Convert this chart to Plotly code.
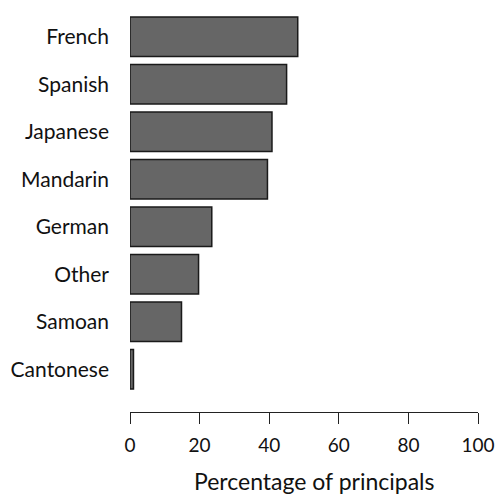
import plotly.graph_objects as go

languages = ["Cantonese", "Samoan", "Other", "German", "Mandarin", "Japanese", "Spanish", "French"]
percentages = [1.0, 14.8, 19.7, 23.5, 39.5, 40.8, 45.0, 48.2]
x_ticks = [0, 20, 40, 60, 80, 100]
x_title = "Percentage of principals"

FONT = "Lato"
W, H = 497, 494
left, right, top, bottom = 130, 19, 2, 82
plot_h = H - top - bottom

fig = go.Figure(go.Bar(
    y=list(range(len(languages))),
    x=percentages,
    orientation="h",
    width=1 / 1.2,
    marker=dict(color="#666666", line=dict(color="#1a1a1a", width=1.5)),
    hoverinfo="x+y",
))

fig.update_layout(
    width=W, height=H,
    margin=dict(l=left, r=right, t=top, b=bottom, pad=0, autoexpand=False),
    paper_bgcolor="white", plot_bgcolor="white",
    showlegend=False,
    font=dict(family=FONT, size=20, color="#111111"),
    xaxis=dict(
        range=[0, 100], tickvals=x_ticks, ticktext=[str(v) for v in x_ticks],
        showgrid=False, zeroline=False, showline=True, linecolor="#222222", linewidth=1.3,
        ticks="outside", ticklen=11, tickwidth=1.3, tickcolor="#222222",
        tickfont=dict(family=FONT, size=19, color="#111111"),
        ticklabelstandoff=5, fixedrange=True, automargin=False,
    ),
    yaxis=dict(
        range=[-0.9, 7.73], tickvals=list(range(len(languages))), ticktext=languages,
        showgrid=False, zeroline=False, showline=False, ticks="",
        tickfont=dict(family=FONT, size=21, color="#111111"),
        ticklabelstandoff=20, fixedrange=True, automargin=False,
    ),
    annotations=[dict(
        text=x_title, xref="paper", yref="paper",
        x=(314 - left) / (W - left - right), y=-(465 - (H - bottom)) / plot_h,
        xanchor="center", yanchor="top", showarrow=False,
        font=dict(family=FONT, size=23, color="#111111"),
    )],
)

fig.write_html(
    "out.html",
    config={"displayModeBar": False},
    post_script="document.body.style.margin='0';document.body.style.padding='0';",
)
